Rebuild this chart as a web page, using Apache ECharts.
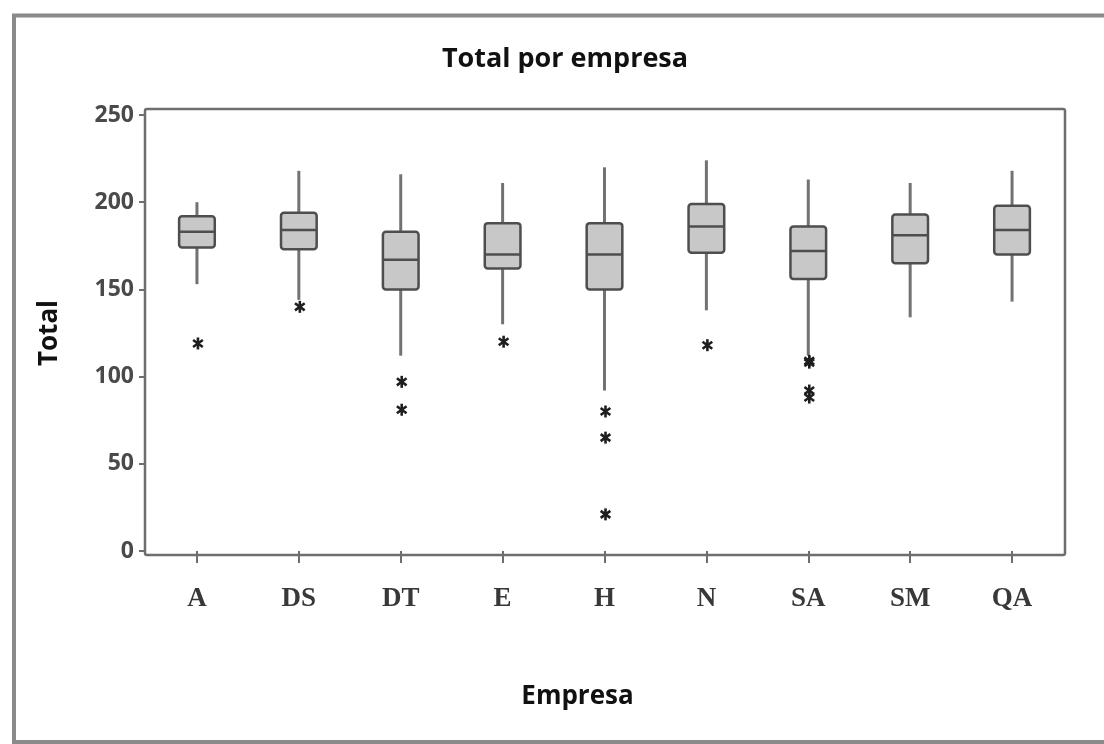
<!DOCTYPE html>
<html>
<head>
<meta charset="utf-8">
<script src="https://cdn.jsdelivr.net/npm/echarts@6/dist/echarts.min.js"></script>
<style>
  html, body { margin: 0; padding: 0; background: #ffffff; }
  #chart { width: 1104px; height: 744px; }
</style>
</head>
<body>
<div id="chart"></div>
<script>
// Companies on the horizontal axis
const categories = ['A', 'DS', 'DT', 'E', 'H', 'N', 'SA', 'SM', 'QA'];

// Five-number summaries per company (whisker ends, quartiles, median)
const whiskerLow  = [153, 144, 112, 130,  92, 138, 112, 134, 143];
const quartile1   = [174, 173, 150, 162, 150, 171, 156, 165, 170];
const medians     = [183, 184, 167, 170, 170, 186, 172, 181, 184];
const quartile3   = [192, 194, 183, 188, 188, 199, 186, 193, 198];
const whiskerHigh = [200, 218, 216, 211, 220, 224, 213, 211, 218];

// Outlying totals, by company
const outliersA  = [119];
const outliersDS = [140];
const outliersDT = [97, 81];
const outliersE  = [120];
const outliersH  = [80, 65, 21];
const outliersN  = [118];
const outliersSA = [109, 108, 92, 88];
const outliersSM = [];
const outliersQA = [];

// Y axis ticks
const yTicks = [0, 50, 100, 150, 200, 250];

const outlierGroups = [outliersA, outliersDS, outliersDT, outliersE, outliersH,
                       outliersN, outliersSA, outliersSM, outliersQA];

const boxData = categories.map((c, i) =>
  [i, whiskerLow[i], quartile1[i], medians[i], quartile3[i], whiskerHigh[i]]);

const outlierData = [];
outlierGroups.forEach((vals, i) => vals.forEach(v => outlierData.push([i, v])));

const BOX_STROKE = '#4e4e4e';
const WHISKER = '#727272';

function renderBox(params, api) {
  const x = api.value(0);
  const lo = api.coord([x, api.value(1)]);
  const q1 = api.coord([x, api.value(2)]);
  const md = api.coord([x, api.value(3)]);
  const q3 = api.coord([x, api.value(4)]);
  const hi = api.coord([x, api.value(5)]);
  const half = api.size([1, 0])[0] * 0.175;
  return {
    type: 'group',
    children: [
      { type: 'line', shape: { x1: lo[0], y1: lo[1], x2: q1[0], y2: q1[1] },
        style: { stroke: WHISKER, lineWidth: 3 } },
      { type: 'line', shape: { x1: q3[0], y1: q3[1], x2: hi[0], y2: hi[1] },
        style: { stroke: WHISKER, lineWidth: 3 } },
      { type: 'rect', shape: { x: q3[0] - half, y: q3[1], width: half * 2, height: q1[1] - q3[1], r: 3 },
        style: { fill: '#c8c8c8', stroke: BOX_STROKE, lineWidth: 2.5 } },
      { type: 'line', shape: { x1: md[0] - half, y1: md[1], x2: md[0] + half, y2: md[1] },
        style: { stroke: BOX_STROKE, lineWidth: 2.5 } }
    ]
  };
}

// Asterisk marker: one vertical stroke plus two diagonals
function renderOutlier(params, api) {
  const p = api.coord([api.value(0), api.value(1)]);
  const r = 6;
  const dx = r * Math.cos(Math.PI / 5);
  const dy = r * Math.sin(Math.PI / 5);
  const style = { stroke: '#1e1e1e', lineWidth: 2.6 };
  const cx = p[0] + 1;
  return {
    type: 'group',
    children: [
      { type: 'line', shape: { x1: cx, y1: p[1] - r, x2: cx, y2: p[1] + r }, style },
      { type: 'line', shape: { x1: cx - dx, y1: p[1] - dy, x2: cx + dx, y2: p[1] + dy }, style },
      { type: 'line', shape: { x1: cx - dx, y1: p[1] + dy, x2: cx + dx, y2: p[1] - dy }, style }
    ]
  };
}

const chart = echarts.init(document.getElementById('chart'), null, { renderer: 'canvas' });

chart.setOption({
  animation: false,
  backgroundColor: '#ffffff',
  title: {
    text: 'Total por empresa',
    left: 560,
    top: 41,
    textAlign: 'center',
    textStyle: { fontFamily: 'Open Sans', fontWeight: 'bold', fontSize: 27, color: '#111111' }
  },
  grid: { left: 146, right: 41, top: 115, bottom: 193 },
  xAxis: {
    type: 'category',
    data: categories,
    name: 'Empresa',
    nameLocation: 'middle',
    nameGap: 133,
    nameTextStyle: {
      fontFamily: 'Open Sans', fontWeight: 'bold', fontSize: 26, color: '#111111',
      padding: [0, 54, 0, 0]
    },
    axisLine: { show: false },
    axisTick: { show: true, alignWithLabel: true, length: 12, lineStyle: { color: '#6e6e6e', width: 2 } },
    axisLabel: { margin: 35, fontFamily: 'Liberation Serif', fontWeight: 'bold', fontSize: 27, color: '#383838' },
    splitLine: { show: false }
  },
  yAxis: {
    type: 'value',
    min: 0,
    max: 250,
    interval: 50,
    name: 'Total',
    nameLocation: 'middle',
    nameGap: 83,
    nameTextStyle: { fontFamily: 'Open Sans', fontWeight: 'bold', fontSize: 26, color: '#111111' },
    axisLine: { show: false },
    axisTick: { show: true, length: 7, lineStyle: { color: '#6e6e6e', width: 2 } },
    axisLabel: {
      margin: 12,
      fontFamily: 'Open Sans',
      fontWeight: 'bold',
      fontSize: 23,
      color: '#4a4a4a',
      formatter: v => (yTicks.indexOf(v) >= 0 ? String(v) : '')
    },
    splitLine: { show: false }
  },
  graphic: [
    // outer panel border
    { type: 'rect', z: 0, silent: true,
      shape: { x: 14, y: 15.5, width: 1200, height: 726.5 },
      style: { fill: 'none', stroke: '#8a8a8a', lineWidth: 4 } },
    // data region frame
    { type: 'rect', z: 1, silent: true,
      shape: { x: 145, y: 109, width: 920, height: 446, r: 2 },
      style: { fill: 'none', stroke: '#6e6e6e', lineWidth: 2.5 } }
  ],
  series: [
    { type: 'custom', name: 'Caja', renderItem: renderBox, data: boxData,
      encode: { x: 0, y: [1, 2, 3, 4, 5] } },
    { type: 'custom', name: 'Atípicos', renderItem: renderOutlier, data: outlierData,
      encode: { x: 0, y: 1 } }
  ]
});
</script>
</body>
</html>
